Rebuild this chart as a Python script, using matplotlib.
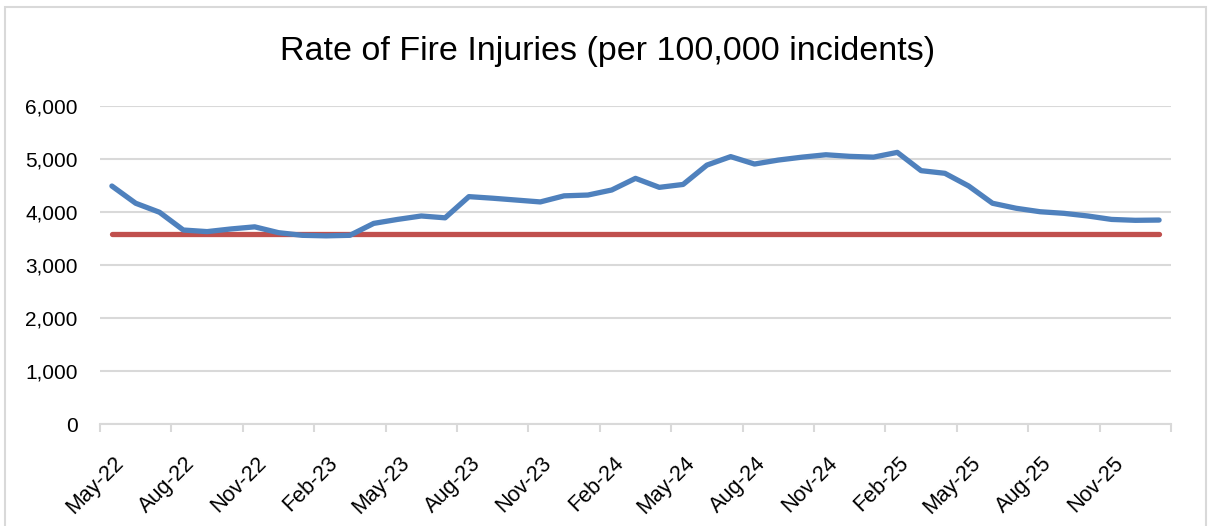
import numpy as np
import matplotlib
matplotlib.use("Agg")
from matplotlib import pyplot as plt
from matplotlib.patches import Rectangle
from matplotlib.transforms import ScaledTranslation

# monthly rate of fire injuries, May-22 .. Jan-26
months = ['May-22', 'Jun-22', 'Jul-22', 'Aug-22', 'Sep-22', 'Oct-22', 'Nov-22', 'Dec-22',
          'Jan-23', 'Feb-23', 'Mar-23', 'Apr-23', 'May-23', 'Jun-23', 'Jul-23', 'Aug-23',
          'Sep-23', 'Oct-23', 'Nov-23', 'Dec-23', 'Jan-24', 'Feb-24', 'Mar-24', 'Apr-24',
          'May-24', 'Jun-24', 'Jul-24', 'Aug-24', 'Sep-24', 'Oct-24', 'Nov-24', 'Dec-24',
          'Jan-25', 'Feb-25', 'Mar-25', 'Apr-25', 'May-25', 'Jun-25', 'Jul-25', 'Aug-25',
          'Sep-25', 'Oct-25', 'Nov-25', 'Dec-25', 'Jan-26']
rate = [4490, 4165, 3995, 3660, 3630, 3680, 3720, 3610,
        3560, 3550, 3560, 3785, 3860, 3925, 3890, 4290,
        4260, 4225, 4190, 4305, 4320, 4415, 4635, 4465,
        4520, 4885, 5045, 4905, 4980, 5035, 5080, 5050,
        5035, 5125, 4780, 4730, 4490, 4165, 4070, 4005,
        3975, 3925, 3860, 3843, 3848]
baseline = [3590] * len(months)

yticks = [0, 1000, 2000, 3000, 4000, 5000, 6000]

fontfam = ['Liberation Sans', 'DejaVu Sans']
plt.rcParams['font.family'] = fontfam

fig = plt.figure(figsize=(12.08, 5.26), dpi=100)
# chart area border
fig.patches.append(Rectangle((5/1208, -0.02), 1201/1208, 1.0067, transform=fig.transFigure,
                             fill=False, edgecolor='#d9d9d9', lw=1.5))

ax = fig.add_axes([100/1208, 102/526, 1071/1208, 318/526])

x = np.arange(len(months)) + 0.5
ax.plot(x, baseline, color='#c0504d', lw=3.8, solid_capstyle='round', zorder=3)
ax.plot(x, rate, color='#4f81bd', lw=3.8, solid_capstyle='round', solid_joinstyle='round', zorder=4)

ax.set_xlim(0, len(months))
ax.set_ylim(0, 6000)
ax.set_yticks(yticks)
ax.set_yticklabels([f'{v:,}' for v in yticks], fontsize=15)
ax.yaxis.grid(True, color='#d9d9d9', lw=1.5)
ax.set_axisbelow(True)

for s in ['left', 'right', 'top']:
    ax.spines[s].set_visible(False)
ax.spines['bottom'].set_color('#d9d9d9')
ax.spines['bottom'].set_linewidth(1.5)
ax.tick_params(axis='x', direction='out', length=6, width=1.5, color='#d9d9d9', pad=4)
ax.tick_params(axis='y', length=0, pad=16)

tick_pos = np.arange(0, len(months) + 1, 3)
ax.set_xticks(tick_pos)
ax.set_xticklabels([months[i] if i < len(months) else '' for i in tick_pos],
                   rotation=45, ha='right', rotation_mode='anchor', fontsize=15.5)
### nudge rotated labels so their end sits just right of / below the tick
shift = ScaledTranslation(0.13, -0.15, fig.dpi_scale_trans)
for lab in ax.get_xticklabels():
    lab.set_transform(lab.get_transform() + shift)

fig.text(0.503, 0.903, 'Rate of Fire Injuries (per 100,000 incidents)', ha='center', va='center', fontsize=24.5)

plt.savefig('out.png', dpi=100)
